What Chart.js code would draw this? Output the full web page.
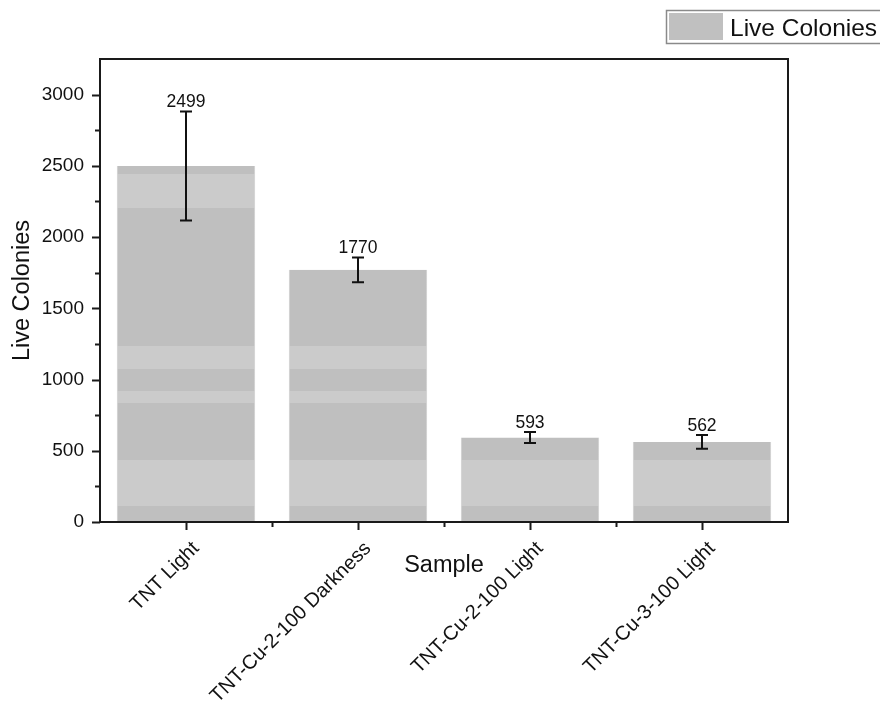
<!DOCTYPE html>
<html>
<head>
<meta charset="utf-8">
<script src="https://cdn.jsdelivr.net/npm/chart.js@4.4.1/dist/chart.umd.min.js"></script>
<style>
  html, body { margin: 0; padding: 0; background: #fff; }
  canvas { display: block; }
</style>
</head>
<body>
<canvas id="coloniesChart" width="880" height="703"></canvas>
<script>
const samples = ['TNT Light', 'TNT-Cu-2-100 Darkness', 'TNT-Cu-2-100 Light', 'TNT-Cu-3-100 Light'];
const liveColonies = [2499, 1770, 593, 562];
const errors = [383, 87, 38, 48];
const yTicks = [0, 500, 1000, 1500, 2000, 2500, 3000];

const FONT = '"Liberation Sans", Arial, sans-serif';
const INK = '#111';

// grey fill with the lighter horizontal bands that run across the bars
const bandRows = [[174, 208], [346, 369], [391, 403], [460, 506]];
function bandedFill(chart) {
  const h = chart.height;
  const dark = '#bfbfbf', light = '#cbcbcb';
  const g = chart.ctx.createLinearGradient(0, 0, 0, h);
  g.addColorStop(0, dark);
  bandRows.forEach(([a, b]) => {
    g.addColorStop(a / h, dark);
    g.addColorStop(a / h, light);
    g.addColorStop(b / h, light);
    g.addColorStop(b / h, dark);
  });
  g.addColorStop(1, dark);
  return g;
}

// error bars, value labels, frame, ticks, titles and legend
const extras = {
  id: 'extras',
  afterDatasetsDraw(chart) {
    const { ctx, chartArea: a, scales: { x, y } } = chart;
    const meta = chart.getDatasetMeta(0);
    ctx.save();

    ctx.strokeStyle = INK;
    ctx.fillStyle = INK;
    ctx.lineWidth = 2;
    ctx.font = '17.5px ' + FONT;
    ctx.textAlign = 'center';
    ctx.textBaseline = 'alphabetic';
    meta.data.forEach((bar, i) => {
      const top = y.getPixelForValue(liveColonies[i] + errors[i]);
      const bot = y.getPixelForValue(liveColonies[i] - errors[i]);
      ctx.beginPath();
      ctx.moveTo(bar.x, top); ctx.lineTo(bar.x, bot);
      ctx.moveTo(bar.x - 6, top); ctx.lineTo(bar.x + 6, top);
      ctx.moveTo(bar.x - 6, bot); ctx.lineTo(bar.x + 6, bot);
      ctx.stroke();
      ctx.fillText(String(liveColonies[i]), bar.x, top - 4);
    });

    // frame
    ctx.strokeStyle = '#1a1a1a';
    ctx.lineWidth = 2;
    ctx.strokeRect(a.left, a.top, a.right - a.left, a.bottom - a.top);

    // y ticks, major every 500 and minor in between
    ctx.beginPath();
    for (let v = 0; v <= 3000; v += 250) {
      const py = Math.round(y.getPixelForValue(v)) + 0.5;
      const len = v % 500 === 0 ? 8 : 5;
      ctx.moveTo(a.left - len, py); ctx.lineTo(a.left, py);
    }
    // x ticks, major on categories and minor on the boundaries
    const step = x.getPixelForValue(1) - x.getPixelForValue(0);
    samples.forEach((s, i) => {
      const px = Math.round(x.getPixelForValue(i)) + 0.5;
      ctx.moveTo(px, a.bottom); ctx.lineTo(px, a.bottom + 8);
    });
    for (let i = 1; i < samples.length; i++) {
      const px = Math.round(x.getPixelForValue(i) - step / 2) + 0.5;
      ctx.moveTo(px, a.bottom); ctx.lineTo(px, a.bottom + 5);
    }
    ctx.stroke();

    // axis titles
    ctx.fillStyle = INK;
    ctx.font = '23.5px ' + FONT;
    ctx.textAlign = 'center';
    ctx.textBaseline = 'middle';
    ctx.fillText('Sample', (a.left + a.right) / 2, 566);
    ctx.save();
    ctx.translate(23, (a.top + a.bottom) / 2);
    ctx.rotate(-Math.PI / 2);
    ctx.fillText('Live Colonies', 0, 0);
    ctx.restore();

    // legend box, running off the right edge
    ctx.strokeStyle = '#8a8a8a';
    ctx.lineWidth = 1.5;
    ctx.strokeRect(666.5, 10.5, 260, 33);
    ctx.fillStyle = '#c0c0c0';
    ctx.fillRect(669, 13, 54, 27);
    ctx.fillStyle = INK;
    ctx.font = '24.5px ' + FONT;
    ctx.textAlign = 'left';
    ctx.textBaseline = 'alphabetic';
    ctx.fillText(chart.data.datasets[0].label, 730, 36);

    ctx.restore();
  }
};

new Chart(document.getElementById('coloniesChart'), {
  type: 'bar',
  data: {
    labels: samples,
    datasets: [{
      label: 'Live Colonies',
      data: liveColonies,
      backgroundColor: ctx => bandedFill(ctx.chart),
      borderColor: '#cdcdcd',
      borderWidth: { left: 1, right: 1, top: 0, bottom: 0 },
      borderSkipped: false,
      barPercentage: 0.805,
      categoryPercentage: 1
    }]
  },
  options: {
    responsive: false,
    animation: false,
    devicePixelRatio: 1,
    layout: { padding: { top: 59, right: 92, left: 0, bottom: 0 } },
    plugins: {
      legend: { display: false },
      tooltip: { enabled: false }
    },
    scales: {
      x: {
        grid: { display: false, drawTicks: false },
        border: { display: false },
        ticks: {
          color: INK,
          font: { family: FONT, size: 20 },
          maxRotation: 45,
          minRotation: 45,
          autoSkip: false,
          padding: 15,
          labelOffset: 10
        },
        afterFit(s) { s.height = 181; }
      },
      y: {
        min: 0,
        max: 3250,
        grid: { display: false, drawTicks: false },
        border: { display: false },
        afterBuildTicks(s) { s.ticks = yTicks.map(v => ({ value: v })); },
        ticks: {
          color: INK,
          font: { family: FONT, size: 19 },
          padding: 16,
          callback: v => String(v)
        },
        afterFit(s) { s.width = 100; }
      }
    }
  },
  plugins: [extras]
});
</script>
</body>
</html>
